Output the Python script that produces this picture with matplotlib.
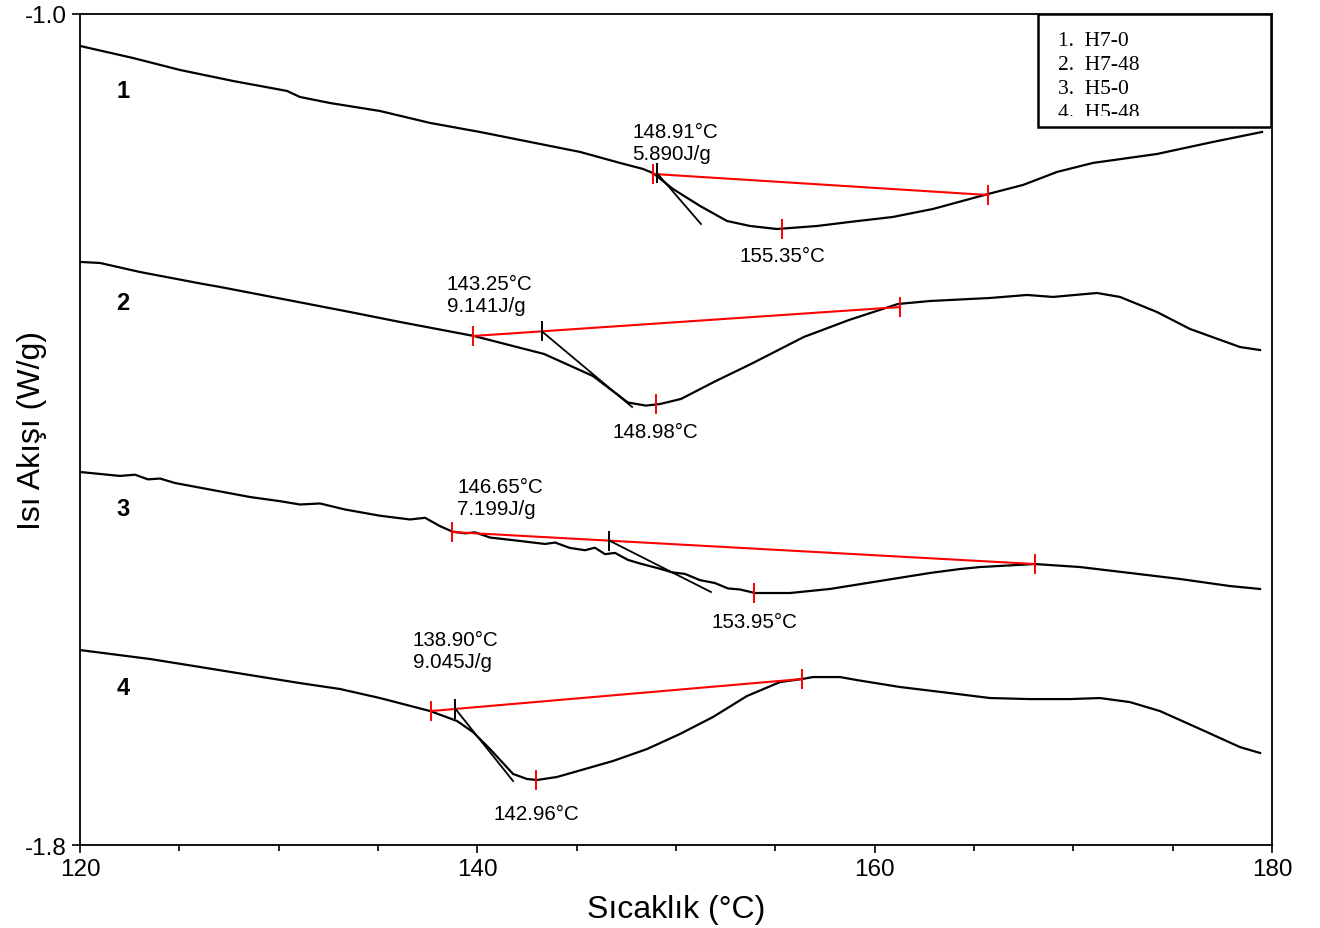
import matplotlib
matplotlib.use("Agg")
import matplotlib.pyplot as plt
from matplotlib.patches import Rectangle
from matplotlib.transforms import Bbox, TransformedBbox
from matplotlib.ticker import MultipleLocator, FormatStrFormatter

plt.rcParams['font.family'] = ['Liberation Sans', 'DejaVu Sans']

# --- data (T in degC, heat flow in W/g) ---
t1 = [120.00, 122.67, 125.03, 127.70, 130.42, 131.07, 132.58, 135.10, 137.62, 140.13,
      142.65, 145.17, 147.18, 148.34, 148.84, 149.85, 151.21, 152.57, 153.73, 155.08,
      157.10, 158.76, 160.92, 162.94, 165.71, 167.47, 169.18, 170.99, 174.21, 177.03, 179.50]
q1 = [-1.0308, -1.0424, -1.0539, -1.0645, -1.0741, -1.0799, -1.0857, -1.0934, -1.1049, -1.1136,
      -1.1232, -1.1328, -1.1434, -1.1492, -1.1531, -1.1685, -1.1848, -1.1993, -1.2041, -1.2070,
      -1.2041, -1.2002, -1.1954, -1.1877, -1.1733, -1.1646, -1.1521, -1.1434, -1.1348, -1.1232, -1.1136]

t2 = [120.00, 121.01, 123.02, 126.19, 127.05, 130.72, 133.59, 136.11, 139.83, 143.36,
      145.82, 147.58, 148.49, 149.19, 150.25, 152.01, 153.78, 156.44, 158.71, 161.17,
      162.79, 165.81, 167.67, 168.98, 171.19, 172.35, 174.21, 175.87, 178.39, 179.40]
q2 = [-1.2387, -1.2397, -1.2484, -1.2599, -1.2628, -1.2763, -1.2869, -1.2965, -1.3100, -1.3273,
      -1.3485, -1.3740, -1.3770, -1.3755, -1.3706, -1.3533, -1.3369, -1.3109, -1.2946, -1.2792,
      -1.2763, -1.2734, -1.2705, -1.2724, -1.2686, -1.2724, -1.2869, -1.3032, -1.3206, -1.3235]

t3 = [120.00, 121.01, 122.01, 122.77, 123.42, 124.03, 124.78, 126.04, 128.56, 130.07,
      131.07, 132.08, 133.34, 135.10, 136.61, 137.37, 138.12, 138.73, 139.38, 139.88,
      140.64, 142.15, 143.41, 143.91, 144.66, 145.42, 145.92, 146.43, 146.93, 147.58,
      148.19, 148.69, 149.19, 149.80, 150.45, 151.21, 151.96, 152.62, 153.22, 153.98,
      155.74, 157.75, 160.27, 162.79, 164.30, 165.30, 168.07, 170.34, 172.85, 175.37,
      177.89, 179.40]
q3 = [-1.4409, -1.4428, -1.4447, -1.4435, -1.4480, -1.4472, -1.4515, -1.4560, -1.4650, -1.4690,
      -1.4722, -1.4712, -1.4770, -1.4830, -1.4866, -1.4850, -1.4930, -1.4982, -1.5000, -1.4990,
      -1.5040, -1.5073, -1.5102, -1.5088, -1.5140, -1.5162, -1.5138, -1.5200, -1.5188, -1.5255,
      -1.5290, -1.5315, -1.5340, -1.5375, -1.5390, -1.5450, -1.5478, -1.5530, -1.5540, -1.5574,
      -1.5574, -1.5535, -1.5458, -1.5381, -1.5343, -1.5324, -1.5295, -1.5324, -1.5381, -1.5439,
      -1.5507, -1.5535]

t4 = [120.00, 123.52, 126.04, 128.56, 131.07, 133.09, 135.10, 137.62, 138.98, 139.78,
      140.64, 141.80, 142.50, 143.00, 144.01, 146.83, 148.54, 150.20, 151.86, 153.57,
      155.24, 156.34, 156.90, 158.26, 159.11, 161.28, 163.79, 165.81, 167.82, 169.83,
      171.34, 172.85, 174.36, 176.38, 178.39, 179.40]
q4 = [-1.6123, -1.6209, -1.6286, -1.6364, -1.6441, -1.6498, -1.6585, -1.6710, -1.6806, -1.6912,
      -1.7076, -1.7316, -1.7364, -1.7374, -1.7345, -1.7191, -1.7076, -1.6931, -1.6768, -1.6566,
      -1.6431, -1.6402, -1.6383, -1.6383, -1.6412, -1.6479, -1.6537, -1.6585, -1.6595, -1.6595,
      -1.6585, -1.6624, -1.6710, -1.6883, -1.7057, -1.7114]

# integration baselines (start/end points), onset tick, tangent end, peak
base_t = [(148.84, 165.71), (139.78, 161.28), (138.73, 168.07), (137.67, 156.34)]
base_q = [(-1.1540, -1.1743), (-1.3100, -1.2821), (-1.4987, -1.5295), (-1.6710, -1.6402)]
onset_t = [149.04, 143.25, 146.65, 138.90]
onset_q = [-1.1531, -1.3055, -1.5070, -1.6690]
tan_end_t = [151.26, 147.79, 151.76, 141.80]
tan_end_q = [-1.2022, -1.3783, -1.5564, -1.7384]
peak_t = [155.35, 148.98, 153.95, 142.96]
peak_q = [-1.2070, -1.3755, -1.5574, -1.7374]
onset_lbl = ["148.91°C\n5.890J/g", "143.25°C\n9.141J/g", "146.65°C\n7.199J/g", "138.90°C\n9.045J/g"]
peak_lbl = ["155.35°C", "148.98°C", "153.95°C", "142.96°C"]
curve_num = ["1", "2", "3", "4"]
legend_names = ["1.  H7-0", "2.  H7-48", "3.  H5-0", "4.  H5-48"]

# layout of texts (data coords)
onset_lbl_xy = [(147.79, -1.1237), (138.47, -1.2700), (138.98, -1.4655), (136.76, -1.6132)]
peak_lbl_y = [-1.2325, -1.4015, -1.5850, -1.7695]
num_xy = [(122.16, -1.0741), (122.16, -1.2773), (122.16, -1.4765), (122.16, -1.6479)]

fig = plt.figure(figsize=(13.2, 9.29), dpi=100)
ax = fig.add_axes([0.0606, 0.0893, 0.9030, 0.8946])

curves = [(t1, q1), (t2, q2), (t3, q3), (t4, q4)]
for i, (t, q) in enumerate(curves):
    ax.plot(t, q, color='black', lw=1.6, zorder=3)
    # baseline
    ax.plot(base_t[i], base_q[i], color='red', lw=1.5, zorder=4)
    ax.plot(base_t[i], base_q[i], ls='none', marker='|', ms=15, mew=1.4, color='red', zorder=5)
    # tangent + onset tick
    ax.plot([onset_t[i], tan_end_t[i]], [onset_q[i], tan_end_q[i]], color='black', lw=1.3, zorder=4)
    ax.plot([onset_t[i]], [onset_q[i]], marker='|', ms=15, mew=1.4, color='black', zorder=5)
    # peak tick
    ax.plot([peak_t[i]], [peak_q[i]], marker='|', ms=15, mew=1.4, color='red', zorder=5)
    ax.text(onset_lbl_xy[i][0], onset_lbl_xy[i][1], onset_lbl[i], fontsize=14.8,
            ha='left', va='center', linespacing=1.2)
    ax.text(peak_t[i], peak_lbl_y[i], peak_lbl[i], fontsize=14.8, ha='center', va='center')
    ax.text(num_xy[i][0], num_xy[i][1], curve_num[i], fontsize=17, fontweight='bold',
            ha='center', va='center')

ax.set_xlim(120, 180)
ax.set_ylim(-1.8, -1.0)
ax.set_xticks([120, 140, 160, 180])
ax.xaxis.set_minor_locator(MultipleLocator(5))
ax.set_yticks([-1.8, -1.0])
ax.yaxis.set_major_formatter(FormatStrFormatter('%.1f'))
ax.tick_params(which='major', direction='out', length=6, width=1.2, labelsize=17.5)
ax.tick_params(which='minor', direction='out', length=4, width=1.2)
for s in ax.spines.values():
    s.set_linewidth(1.3)

ax.set_xlabel("Sıcaklık (°C)", fontsize=23, labelpad=10)
ax.set_ylabel("Isı Akışı (W/g)", fontsize=23)
ax.yaxis.set_label_coords(-0.028, 0.5)

# legend box (its last line is cut off at the lower edge, as in the source)
box = Rectangle((0.8037, 0.8640), 0.1955, 0.1360, transform=ax.transAxes,
                facecolor='white', edgecolor='black', lw=1.8, zorder=6)
ax.add_patch(box)
clip_box = TransformedBbox(Bbox([[0.8037, 0.8768], [0.9992, 1.0]]), ax.transAxes)
leg_y = [0.9675, 0.9386, 0.9098, 0.8809]
for name, y in zip(legend_names, leg_y):
    tx = ax.text(0.8205, y, name, transform=ax.transAxes, fontsize=15.5,
                 family=['Liberation Serif', 'DejaVu Serif'], ha='left', va='center', zorder=7)
    tx.set_clip_box(clip_box)
    tx.set_clip_on(True)

fig.savefig("out.png", dpi=100)
